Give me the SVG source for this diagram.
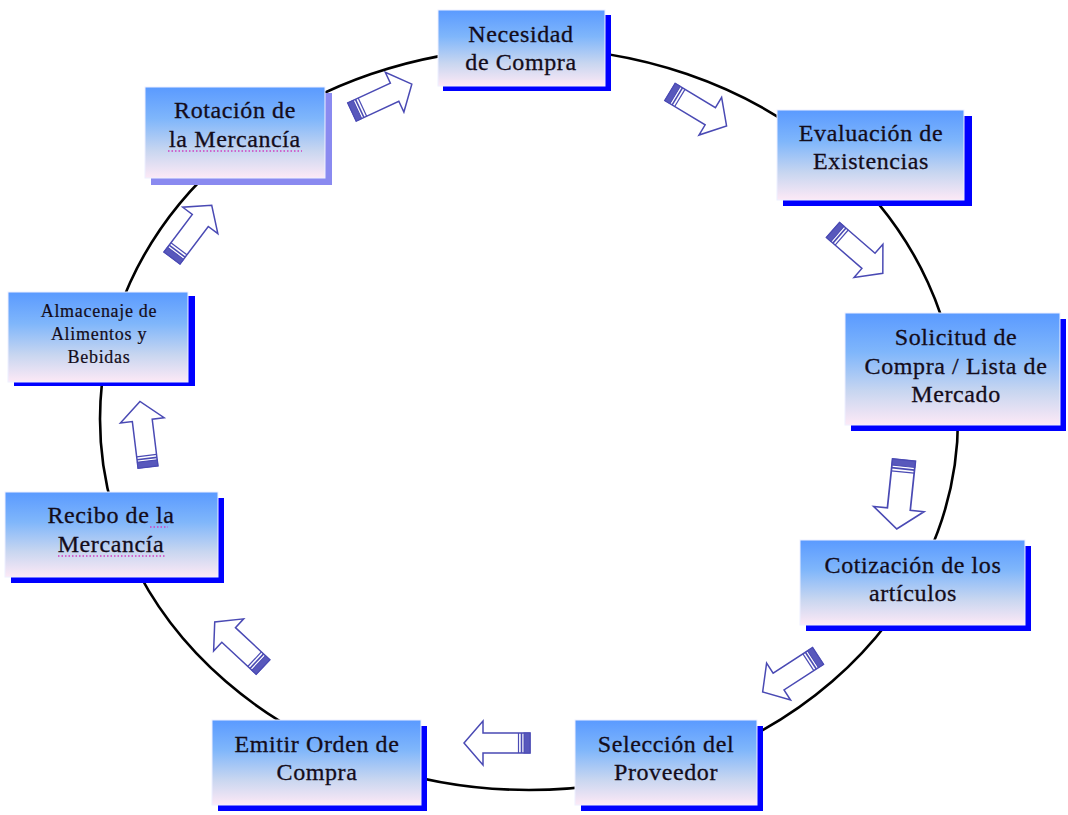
<svg xmlns="http://www.w3.org/2000/svg" xmlns:xlink="http://www.w3.org/1999/xlink" width="1068" height="815" viewBox="0 0 1068 815">
<style>
.box{fill:url(#bg);stroke:#eef0ff;stroke-width:1}
.sh{fill:#0000ff}
.shl{fill:#8a8af0}
.t{font-family:"Liberation Serif","Times New Roman",serif;font-size:24px;letter-spacing:0.6px;fill:#140c1a;stroke:#140c1a;stroke-width:0.3;text-anchor:middle}
.ts{font-family:"Liberation Serif","Times New Roman",serif;font-size:18px;letter-spacing:0.7px;fill:#140c1a;stroke:#140c1a;stroke-width:0.2;text-anchor:middle}
.sq{stroke:#d040c0;stroke-width:1.3;stroke-dasharray:1.5 2;fill:none}
.ar{fill:#ffffff;stroke:#4a4ab4;stroke-width:1.5;stroke-linejoin:miter}
.st{stroke:#4a4ab4;fill:none}
</style>
<defs>
<linearGradient id="bg" x1="0" y1="0" x2="0" y2="1">
<stop offset="0" stop-color="#5a9aff"/>
<stop offset="0.35" stop-color="#7fb6fb"/>
<stop offset="0.7" stop-color="#c8d6f0"/>
<stop offset="1" stop-color="#fde9f6"/>
</linearGradient>
<g id="arrow">
<polygon class="ar" points="0,-10 47,-10 47,-22 66,0 47,22 47,10 0,10"/>
<rect x="0" y="-10" width="6" height="20" fill="#5858bc" stroke="#4a4ab4" stroke-width="1"/>
<line class="st" x1="8.5" y1="-10" x2="8.5" y2="10" stroke-width="1.6"/>
<line class="st" x1="11.5" y1="-10" x2="11.5" y2="10" stroke-width="1.2"/>
</g>
</defs>
<rect width="1068" height="815" fill="#ffffff"/>
<g id="connectors">
<ellipse cx="529" cy="419" rx="429" ry="371" fill="none" stroke="#000000" stroke-width="2.6"/>
<use xlink:href="#arrow" transform="translate(352,112) rotate(-25)"/>
<use xlink:href="#arrow" transform="translate(670,92) rotate(31)"/>
<use xlink:href="#arrow" transform="translate(833,230) rotate(41)"/>
<use xlink:href="#arrow" transform="translate(904,460) rotate(96) scale(1.05,1.15)"/>
<use xlink:href="#arrow" transform="translate(818,656) rotate(147)"/>
<use xlink:href="#arrow" transform="translate(530,743) rotate(180)"/>
<use xlink:href="#arrow" transform="translate(263,667) rotate(-137)"/>
<use xlink:href="#arrow" transform="translate(148,467) rotate(-97)"/>
<use xlink:href="#arrow" transform="translate(172,258) rotate(-53)"/>
</g>
<g id="necesidad">
<rect class="sh" x="443" y="15" width="168" height="76"/>
<rect class="box" x="438" y="10" width="167" height="76"/>
<text class="t" x="521" y="42">Necesidad</text>
<text class="t" x="521" y="70">de Compra</text>
</g>
<g id="evaluacion">
<rect class="sh" x="783" y="116" width="189" height="90"/>
<rect class="box" x="777" y="110" width="187" height="90"/>
<text class="t" x="871" y="141">Evaluación de</text>
<text class="t" x="871" y="169">Existencias</text>
</g>
<g id="solicitud">
<rect class="sh" x="851" y="319" width="215" height="112"/>
<rect class="box" x="845" y="313" width="215" height="112"/>
<text class="t" x="956" y="345">Solicitud de</text>
<text class="t" x="956" y="374">Compra / Lista de</text>
<text class="t" x="956" y="402">Mercado</text>
</g>
<g id="cotizacion">
<rect class="sh" x="806" y="546" width="225" height="85"/>
<rect class="box" x="800" y="540" width="225" height="85"/>
<text class="t" x="913" y="573">Cotización de los</text>
<text class="t" x="913" y="601">artículos</text>
</g>
<g id="seleccion">
<rect class="sh" x="581" y="726" width="182" height="85"/>
<rect class="box" x="575" y="720" width="182" height="85"/>
<text class="t" x="666" y="752">Selección del</text>
<text class="t" x="666" y="780">Proveedor</text>
</g>
<g id="emitir">
<rect class="sh" x="218" y="726" width="209" height="85"/>
<rect class="box" x="212" y="720" width="209" height="85"/>
<text class="t" x="317" y="752">Emitir Orden de</text>
<text class="t" x="317" y="780">Compra</text>
</g>
<g id="recibo">
<rect class="sh" x="11" y="498" width="213" height="85"/>
<rect class="box" x="5" y="492" width="213" height="85"/>
<text class="t" x="111" y="523">Recibo de la</text>
<text class="t" x="111" y="552">Mercancía</text>
<line class="sq" x1="150" y1="527" x2="168" y2="527"/>
<line class="sq" x1="58" y1="556" x2="166" y2="556"/>
</g>
<g id="almacenaje">
<rect class="sh" x="14" y="296" width="181" height="90"/>
<rect class="box" x="8" y="292" width="180" height="90"/>
<text class="ts" x="99" y="317">Almacenaje de</text>
<text class="ts" x="99" y="340">Alimentos y</text>
<text class="ts" x="99" y="363">Bebidas</text>
</g>
<g id="rotacion">
<rect class="shl" x="151" y="93" width="181" height="92"/>
<rect class="box" x="145" y="87" width="180" height="91"/>
<text class="t" x="235" y="118">Rotación de</text>
<text class="t" x="235" y="147">la Mercancía</text>
<line class="sq" x1="168" y1="151" x2="302" y2="151"/>
</g>
</svg>
